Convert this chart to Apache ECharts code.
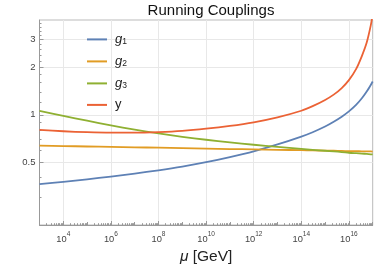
<!DOCTYPE html>
<html>
<head>
<meta charset="utf-8">
<style>
html,body{margin:0;padding:0;background:#fff;}
#c{width:374px;height:268px;}
</style>
<script src="https://cdn.jsdelivr.net/npm/echarts@6/dist/echarts.min.js"></script>
</head>
<body>
<div id="c"></div>
<script>
// renormalization scale mu [GeV]
const mu  = [1e3,1e4,1e5,1e6,1e7,1e8,1e9,1e10,1e11,1e12,1e13,1e14,3e14,1e15,2.3e15,5e15,1e16,2e16,3.5e16,5.6e16,8.3e16,1e17];
const g1  = [0.363,0.376,0.390,0.406,0.424,0.445,0.470,0.501,0.540,0.587,0.649,0.728,0.776,0.843,0.904,0.973,1.052,1.156,1.274,1.406,1.549,1.629];
const g2  = [0.638,0.634,0.630,0.626,0.622,0.619,0.615,0.611,0.607,0.604,0.600,0.597,0.595,0.593,0.592,0.590,0.589,0.588,0.587,0.586,0.586,0.585];
const g3  = [1.059,0.986,0.918,0.857,0.805,0.762,0.726,0.695,0.668,0.646,0.626,0.609,0.600,0.592,0.586,0.581,0.575,0.571,0.568,0.565,0.562,0.561];
const yuk = [0.803,0.787,0.776,0.771,0.771,0.778,0.792,0.817,0.851,0.897,0.964,1.062,1.136,1.244,1.344,1.480,1.661,1.951,2.362,2.877,3.699,4.345];

const seriesNames = ['g1','g2','g3','y'];
const seriesData = [g1,g2,g3,yuk];
const colors = ['#5E81B5','#E19C24','#8FB032','#EB6235'];

const xMajorLabels = [1e4,1e6,1e8,1e10,1e12,1e14,1e16];
const xDecades = [1e3,1e4,1e5,1e6,1e7,1e8,1e9,1e10,1e11,1e12,1e13,1e14,1e15,1e16,1e17];
const yLabels = [0.5,1,2,3];
const yMinor = [0.3,0.4,0.6,0.7,0.8,0.9,1.2,1.4,1.6,1.8,2.2,2.4,2.6,2.8,3.2,3.4,3.6,3.8];

const xMinor = [];
for (const d of xDecades) { for (let k = 2; k <= 9; k++) { if (d*k <= 1e17) xMinor.push(d*k); } }

const font = 'Liberation Sans, Arial, sans-serif';
const labelColor = '#444';

function pair(arr) { return mu.map((m,i) => [m, arr[i]]); }

const chart = echarts.init(document.getElementById('c'), null, {renderer:'canvas'});
chart.setOption({
  animation: false,
  title: {
    text: 'Running Couplings',
    left: 206, top: -2, textAlign: 'center',
    textStyle: {fontFamily: font, fontSize: 15, fontWeight: 'normal', color: '#111'}
  },
  grid: {left: 39.5, right: 1.3, top: 20, bottom: 43, show: true, borderColor: '#bbb', borderWidth: 1,
         backgroundColor: 'transparent', containLabel: false, outerBoundsMode: 'none'},
  legend: {
    orient: 'vertical', left: 86, top: 32.4, padding: 0, itemWidth: 20, itemHeight: 14, itemGap: 8,
    itemStyle: {opacity: 0},
    data: seriesNames,
    formatter: function(n){ return n === 'y' ? '{y|y}' : '{g|g}{s|' + n.slice(1) + '}'; },
    textStyle: {
      fontFamily: font, color: '#222', padding: [0,0,0,3],
      rich: {
        g: {fontFamily: font, fontSize: 13, fontStyle: 'italic', color: '#222', verticalAlign: 'top'},
        s: {fontFamily: font, fontSize: 8.5, color: '#222', verticalAlign: 'bottom', padding: [5,0,0,0]},
        y: {fontFamily: font, fontSize: 13, color: '#222'}
      }
    }
  },
  xAxis: [{
    type: 'log', logBase: 10, min: 1e3, max: 1e17,
    name: '{m|μ} [GeV]', nameLocation: 'middle', nameGap: 16,
    nameTextStyle: {fontFamily: font, fontSize: 15.5, color: '#222', rich: {m: {fontFamily: font, fontSize: 15.5, fontStyle: 'italic', color: '#222'}}},
    axisLine: {lineStyle: {color: '#999', width: 1}},
    axisTick: {inside: true, length: 4, customValues: xMajorLabels, lineStyle: {color: '#999'}},
    axisLabel: {
      customValues: xMajorLabels, margin: 6, color: labelColor,
      formatter: function(v){ return '{b|10}{e|' + Math.round(Math.log10(v)) + '}'; },
      rich: {
        b: {fontFamily: font, fontSize: 9.3, color: labelColor, verticalAlign: 'bottom'},
        e: {fontFamily: font, fontSize: 6.5, color: labelColor, verticalAlign: 'top', padding: [0,0,6,0]}
      }
    },
    splitLine: {show: true, lineStyle: {color: '#e8e8e8', width: 1}},
    minorTick: {show: false}
  },{
    type: 'log', logBase: 10, min: 1e3, max: 1e17, position: 'bottom',
    axisLine: {show: false},
    axisTick: {inside: true, length: 3, customValues: xDecades.filter(d => !xMajorLabels.includes(d)), lineStyle: {color: '#999'}},
    axisLabel: {show: false}, splitLine: {show: false}
  },{
    type: 'log', logBase: 10, min: 1e3, max: 1e17, position: 'bottom',
    axisLine: {show: false},
    axisTick: {inside: true, length: 1.8, customValues: xMinor, lineStyle: {color: '#999'}},
    axisLabel: {show: false}, splitLine: {show: false}
  }],
  yAxis: [{
    type: 'log', logBase: 10, min: 0.2, max: 4,
    axisLine: {show: true, lineStyle: {color: '#999', width: 1}},
    axisTick: {show: true, inside: true, length: 4, customValues: yLabels, lineStyle: {color: '#999'}},
    axisLabel: {customValues: yLabels, margin: 4, color: labelColor, fontFamily: font, fontSize: 9.5,
      formatter: function(v){ return String(v); }},
    splitLine: {show: true, lineStyle: {color: '#e8e8e8', width: 1}}
  },{
    type: 'log', logBase: 10, min: 0.2, max: 4, position: 'left',
    axisLine: {show: false},
    axisTick: {show: true, inside: true, length: 2, customValues: yMinor, lineStyle: {color: '#999'}},
    axisLabel: {show: false}, splitLine: {show: false}
  }],
  series: seriesNames.map((n,i) => ({
    name: n, type: 'line', xAxisIndex: 0, yAxisIndex: 0,
    data: pair(seriesData[i]), smooth: 0.25, symbol: 'none', clip: true,
    lineStyle: {color: colors[i], width: 1.8, join: 'round'}, itemStyle: {color: colors[i]}
  }))
});
</script>
</body>
</html>
